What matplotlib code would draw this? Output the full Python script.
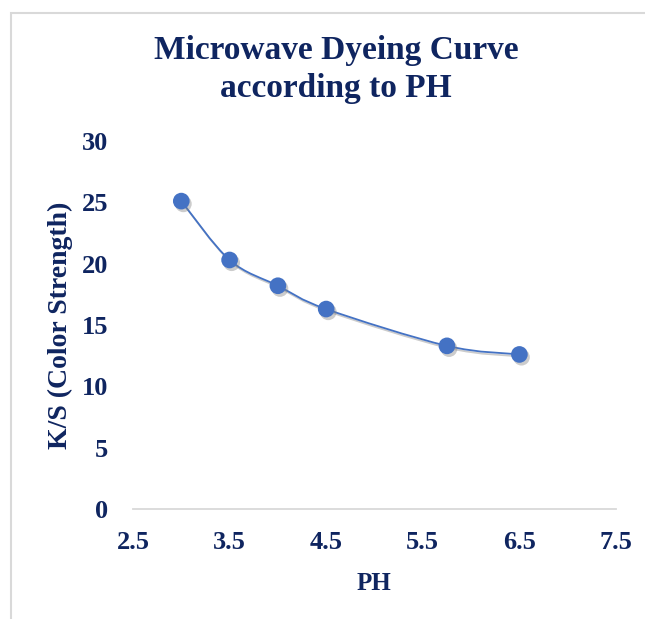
import matplotlib
matplotlib.use('Agg')
import matplotlib.pyplot as plt
import matplotlib.patheffects as pe
from matplotlib.path import Path
from matplotlib.patches import PathPatch, Rectangle
import numpy as np

ph = [3.0, 3.5, 4.0, 4.5, 5.75, 6.5]
ks = [25.1, 20.3, 18.2, 16.3, 13.3, 12.6]
xticks = [2.5, 3.5, 4.5, 5.5, 6.5, 7.5]
yticks = [0, 5, 10, 15, 20, 25, 30]

navy = '#0f2560'
blue = '#4472c4'
grey = '#d9d9d9'
plt.rcParams['font.family'] = ['Liberation Serif', 'DejaVu Serif']
plt.rcParams['font.weight'] = 'bold'

fig = plt.figure(figsize=(6.45, 6.19), dpi=100)
fig.patches.append(Rectangle((11 / 645, -0.1), 1.2, (619 - 12.5) / 619 + 0.1,
                             transform=fig.transFigure, fill=False,
                             edgecolor=grey, linewidth=1.5))

ax = fig.add_axes([133 / 645, 110 / 619, 483 / 645, 368 / 619])
ax.set_xlim(2.5, 7.5)
ax.set_ylim(0, 30)
ax.set_xticks(xticks)
ax.set_yticks(yticks)
ax.set_xticklabels([str(t) for t in xticks])
ax.tick_params(length=0, labelsize=19, labelcolor=navy)
ax.tick_params(axis='x', pad=16)
ax.tick_params(axis='y', pad=18)
for s in ('top', 'right', 'left'):
    ax.spines[s].set_visible(False)
ax.spines['bottom'].set_color(grey)
ax.spines['bottom'].set_linewidth(1.3)

# smooth line (Catmull-Rom as Bezier)
pts = np.column_stack([ph, ks])
ext = np.vstack([pts[0], pts, pts[-1]])
verts = [tuple(pts[0])]
codes = [Path.MOVETO]
for i in range(1, len(ext) - 2):
    p0, p1, p2, p3 = ext[i - 1], ext[i], ext[i + 1], ext[i + 2]
    verts += [tuple(p1 + (p2 - p0) / 6), tuple(p2 - (p3 - p1) / 6), tuple(p2)]
    codes += [Path.CURVE4] * 3
curve = PathPatch(Path(verts, codes), fill=False, edgecolor=blue, linewidth=1.3,
                  path_effects=[pe.SimpleLineShadow(offset=(1, -1.5), alpha=0.2), pe.Normal()])
ax.add_patch(curve)

ax.plot(ph, ks, linestyle='none', marker='o', markersize=12, color=blue,
        markeredgewidth=0,
        path_effects=[pe.SimplePatchShadow(offset=(1.5, -2), shadow_rgbFace='#808080', alpha=0.4),
                      pe.Normal()])

ax.set_xlabel('PH', fontsize=18, fontweight='bold', color=navy)
ax.set_ylabel('K/S (Color Strength)', fontsize=20, fontweight='bold', color=navy)
ax.xaxis.set_label_coords(0.499, -0.17)
ax.yaxis.set_label_coords(-0.124, 0.5)
fig.text(336 / 645, 1 - 69.5 / 619, 'Microwave Dyeing Curve\naccording to PH',
         ha='center', va='center', fontsize=24, fontweight='bold', color=navy,
         linespacing=1.27)

fig.savefig('out.png', dpi=100)
